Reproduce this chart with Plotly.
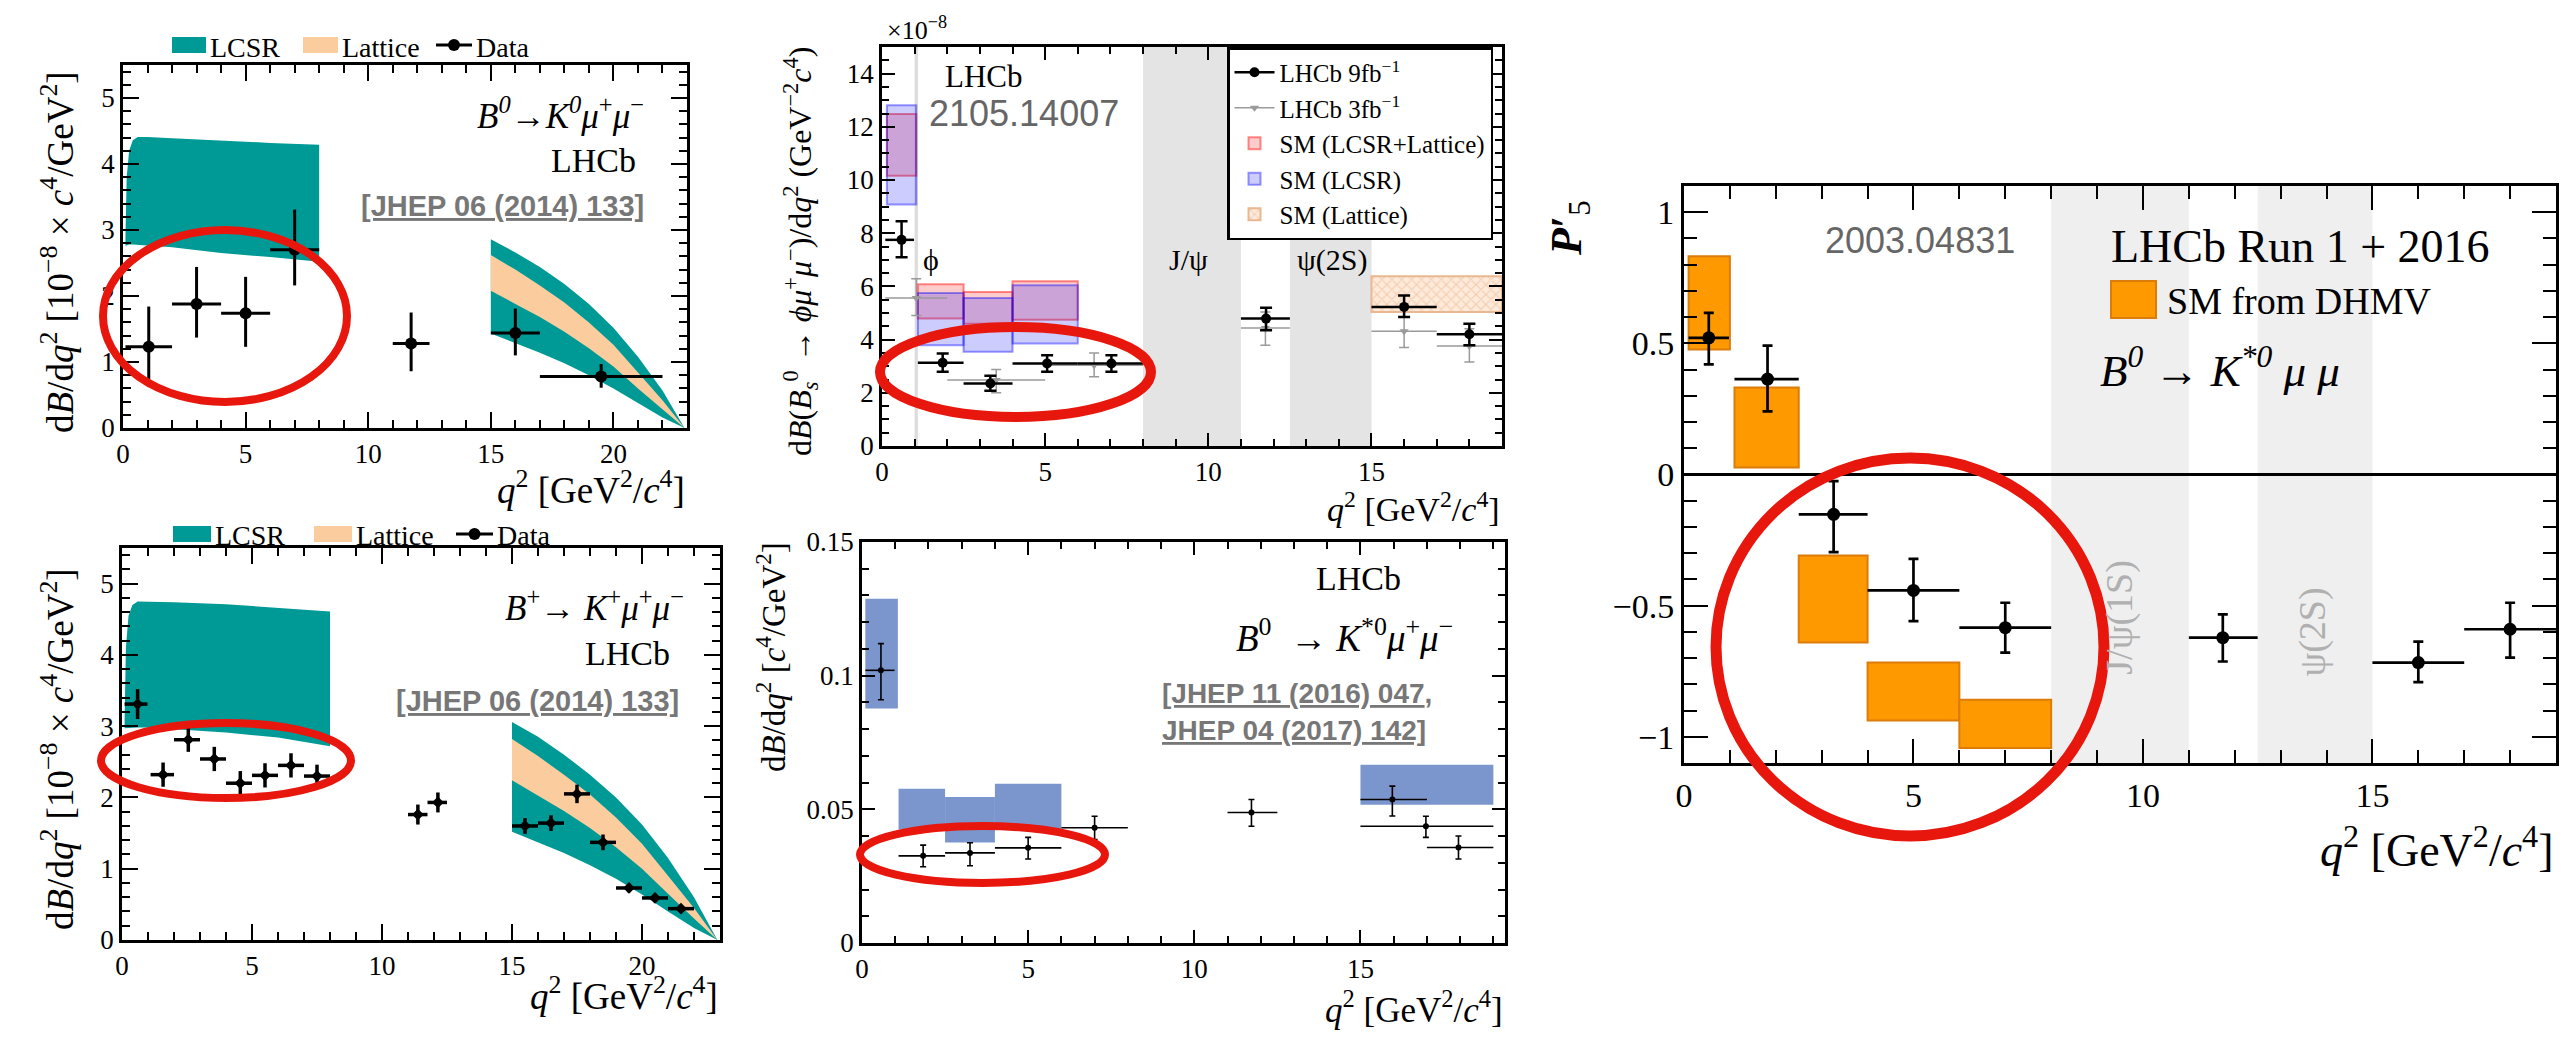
import plotly.graph_objects as go

W, H = 2561, 1037
SERIF = "Liberation Serif"
SANS = "Liberation Sans"

# ---------------- data ----------------
# Panel 1 : B0 -> K0 mu mu
k0_lo = [0.1, 2, 4, 6, 11, 15, 17]
k0_hi = [2, 4, 6, 8, 12.5, 17, 22]
k0_x = [1.05, 3, 5, 7, 11.75, 16, 19.5]
k0_y = [1.23, 1.88, 1.74, 2.70, 1.28, 1.44, 0.78]
k0_yhi = [1.84, 2.44, 2.29, 3.31, 1.75, 1.81, 0.97]
k0_ylo = [0.62, 1.37, 1.23, 2.16, 0.86, 1.10, 0.61]
low_q2 = [0.1, 0.15, 0.25, 0.4, 0.6, 1, 2, 4, 6, 8]
k0_lcsr_up = [2.9, 3.8, 4.2, 4.36, 4.41, 4.41, 4.39, 4.35, 4.32, 4.29]
k0_lcsr_dn = [2.76, 2.77, 2.78, 2.78, 2.78, 2.77, 2.74, 2.65, 2.59, 2.52]
high_q2 = [15, 16, 17, 18, 19, 20, 21, 22, 22.9]
k0_hl_tu = [2.86, 2.66, 2.44, 2.18, 1.88, 1.52, 1.08, 0.57, 0]
k0_hl_pu = [2.62, 2.40, 2.16, 1.90, 1.60, 1.26, 0.84, 0.42, 0]
k0_hl_pl = [2.08, 1.88, 1.68, 1.46, 1.21, 0.93, 0.60, 0.28, 0]
k0_hl_tl = [1.43, 1.29, 1.14, 0.98, 0.80, 0.60, 0.38, 0.16, 0]

# Panel 2 : B+ -> K+ mu mu
kp_lo = [0.1, 1.1, 2, 3, 4, 5, 6, 7, 11, 11.75, 15, 16, 17, 18, 19, 20, 21]
kp_hi = [0.98, 2, 3, 4, 5, 6, 7, 8, 11.75, 12.5, 16, 17, 18, 19, 20, 21, 22]
kp_x = [0.6, 1.58, 2.55, 3.55, 4.55, 5.5, 6.5, 7.5, 11.38, 12.15, 15.5, 16.5, 17.5, 18.5, 19.5, 20.5, 21.5]
kp_y = [3.31, 2.32, 2.81, 2.54, 2.20, 2.31, 2.45, 2.30, 1.76, 1.93, 1.60, 1.64, 2.05, 1.37, 0.73, 0.59, 0.44]
kp_err = [0.21, 0.17, 0.17, 0.17, 0.17, 0.17, 0.17, 0.16, 0.14, 0.14, 0.11, 0.11, 0.13, 0.11, 0.06, 0.06, 0.05]
kp_lcsr_up = [3.1, 4.1, 4.55, 4.7, 4.75, 4.75, 4.74, 4.71, 4.66, 4.61]
kp_lcsr_dn = [2.97, 2.98, 2.98, 2.98, 2.98, 2.98, 2.96, 2.91, 2.84, 2.72]
kp_hl_tu = [3.06, 2.85, 2.60, 2.32, 2.00, 1.62, 1.15, 0.60, 0]
kp_hl_pu = [2.82, 2.58, 2.32, 2.04, 1.72, 1.35, 0.90, 0.45, 0]
kp_hl_pl = [2.24, 2.03, 1.81, 1.57, 1.30, 1.00, 0.65, 0.30, 0]
kp_hl_tl = [1.52, 1.37, 1.22, 1.05, 0.86, 0.64, 0.40, 0.17, 0]

# Panel 3 : Bs -> phi mu mu
phi9_lo = [0.1, 1.1, 2.5, 4, 6, 11, 15, 17]
phi9_hi = [0.98, 2.5, 4, 6, 8, 12.5, 17, 19]
phi9_x = [0.6, 1.86, 3.32, 5.06, 7.03, 11.77, 16.0, 18.0]
phi9_y = [7.75, 3.13, 2.35, 3.10, 3.10, 4.79, 5.23, 4.20]
phi9_yhi = [8.45, 3.48, 2.64, 3.41, 3.41, 5.20, 5.66, 4.60]
phi9_ylo = [7.10, 2.79, 2.08, 2.79, 2.79, 4.35, 4.85, 3.79]
phi3_lo = [0.1, 2, 5, 11, 15, 17]
phi3_hi = [2, 5, 8, 12.5, 17, 19]
phi3_x = [1.05, 3.5, 6.5, 11.75, 16.0, 18.0]
phi3_y = [5.56, 2.48, 3.04, 4.44, 4.31, 3.76]
phi3_yhi = [6.29, 2.88, 3.50, 5.04, 4.85, 4.41]
phi3_ylo = [4.91, 2.00, 2.60, 3.79, 3.70, 3.16]
sm_q2_lo = [0.15, 1.1, 2.5, 4.0]
sm_q2_hi = [1.05, 2.5, 4.0, 6.0]
sm_ll_top = [12.48, 6.08, 5.79, 6.19]
sm_ll_bot = [10.16, 4.79, 4.60, 4.75]
sm_lcsr_top = [12.81, 5.75, 5.56, 6.04]
sm_lcsr_bot = [9.08, 3.79, 3.54, 3.85]
sm_lat_lo, sm_lat_hi = [15.0], [19.0]
sm_lat_top, sm_lat_bot = [6.38], [5.04]
veto_bands = [(8.0, 11.0), (12.5, 15.0)]
phi_veto = (1.0, 1.1)

# Panel 4 : B0 -> K*0 mu mu branching fraction
ks_lo = [0.1, 1.1, 2.5, 4, 6, 11, 15, 15, 17]
ks_hi = [0.98, 2.5, 4, 6, 8, 12.5, 17, 19, 19]
ks_x = [0.57, 1.84, 3.25, 5.0, 7.0, 11.72, 15.96, 16.97, 17.95]
ks_y = [0.102, 0.0326, 0.0337, 0.0356, 0.0431, 0.0488, 0.0537, 0.0437, 0.0357]
ks_yhi = [0.112, 0.0366, 0.0375, 0.0395, 0.0474, 0.0537, 0.0587, 0.0474, 0.0400]
ks_ylo = [0.091, 0.0285, 0.0289, 0.0314, 0.0387, 0.0437, 0.0475, 0.0395, 0.0314]
ks_sm_lo = [0.1, 1.1, 2.5, 4.0, 15.0]
ks_sm_hi = [1.08, 2.5, 4.0, 6.0, 19.0]
ks_sm_top = [0.1288, 0.0577, 0.0546, 0.0596, 0.0667]
ks_sm_bot = [0.0877, 0.0425, 0.0376, 0.0425, 0.0517]

# Panel 5 : P5'
p5_lo = [0.1, 1.1, 2.5, 4, 6, 11, 15, 17]
p5_hi = [0.98, 2.5, 4, 6, 8, 12.5, 17, 19]
p5_x = [0.54, 1.82, 3.26, 5.0, 7.0, 11.74, 16.0, 18.0]
p5_y = [0.521, 0.364, -0.152, -0.442, -0.584, -0.622, -0.717, -0.590]
p5_yhi = [0.616, 0.491, -0.025, -0.322, -0.489, -0.533, -0.637, -0.489]
p5_ylo = [0.420, 0.241, -0.296, -0.559, -0.679, -0.713, -0.792, -0.698]
dhmv_lo = [0.1, 1.1, 2.5, 4, 6]
dhmv_hi = [1.0, 2.5, 4, 6, 8]
dhmv_top = [0.832, 0.332, -0.309, -0.717, -0.859]
dhmv_bot = [0.477, 0.027, -0.641, -0.938, -1.043]

TEAL = "#009a96"
PEACH = "#fbcc9e"
KBLUE = "#7b96cd"
ORANGE = "#ff9900"
RED = "#e8170e"


def px(x):
    return x / W


def py(y):
    return 1 - y / H


def minus(a, b):
    return [u - v for u, v in zip(a, b)]


def mid(a, b):
    return [(u + v) / 2 for u, v in zip(a, b)]


fig = go.Figure()


def band(xs, up, dn, color, ax):
    fig.add_trace(go.Scatter(x=list(xs) + list(xs)[::-1], y=list(up) + list(dn)[::-1],
                             fill="toself", fillcolor=color, mode="lines", line=dict(width=0),
                             hoverinfo="skip", showlegend=False, xaxis="x" + ax, yaxis="y" + ax))


def points(x, y, xlo, xhi, yhi, ylo, ax, color="black", size=10, symbol="circle", thick=2.5, cap=0,
           name=None, showlegend=False):
    fig.add_trace(go.Scatter(
        x=x, y=y, mode="markers", name=name, showlegend=showlegend,
        marker=dict(color=color, size=size, symbol=symbol),
        error_x=dict(type="data", array=minus(xhi, x), arrayminus=minus(x, xlo), width=0,
                     thickness=thick, color=color),
        error_y=dict(type="data", array=minus(yhi, y), arrayminus=minus(y, ylo), width=cap,
                     thickness=thick, color=color),
        xaxis="x" + ax, yaxis="y" + ax))


def boxes(lo, hi, bot, top, ax, color, line, lw=2, name=None, showlegend=False, pattern=None, rank=None):
    fig.add_trace(go.Bar(x=mid(lo, hi), y=minus(top, bot), base=bot, width=minus(hi, lo),
                         marker=dict(color=color, line=dict(color=line, width=lw), pattern=pattern),
                         name=name, showlegend=showlegend, legendrank=rank,
                         xaxis="x" + ax, yaxis="y" + ax))


# Panel 1
band(low_q2, k0_lcsr_up, k0_lcsr_dn, TEAL, "")
band(high_q2, k0_hl_tu, k0_hl_tl, TEAL, "")
band(high_q2, k0_hl_pu, k0_hl_pl, PEACH, "")
points(k0_x, k0_y, k0_lo, k0_hi, k0_yhi, k0_ylo, "", size=12, thick=3)

# Panel 2
band(low_q2, kp_lcsr_up, kp_lcsr_dn, TEAL, "2")
band(high_q2, kp_hl_tu, kp_hl_tl, TEAL, "2")
band(high_q2, kp_hl_pu, kp_hl_pl, PEACH, "2")
points(kp_x, kp_y, kp_lo, kp_hi, [a + b for a, b in zip(kp_y, kp_err)],
       [a - b for a, b in zip(kp_y, kp_err)], "2", size=9, symbol="diamond", thick=3.5)

# Panel 3
boxes(sm_q2_lo, sm_q2_hi, sm_ll_bot, sm_ll_top, "3", "rgba(255,0,0,0.2)", "rgba(255,0,0,0.45)",
      name="SM (LCSR+Lattice)", showlegend=True, rank=3)
boxes(sm_q2_lo, sm_q2_hi, sm_lcsr_bot, sm_lcsr_top, "3", "rgba(0,0,255,0.2)", "rgba(0,0,255,0.4)",
      name="SM (LCSR)", showlegend=True, rank=4)
boxes(sm_lat_lo, sm_lat_hi, sm_lat_bot, sm_lat_top, "3", "#fdeadb", "#e9b891",
      name="SM (Lattice)", showlegend=True, rank=5,
      pattern=dict(shape="x", fgcolor="#e9ad80", size=7, solidity=0.3, fillmode="overlay"))
points(phi3_x, phi3_y, phi3_lo, phi3_hi, phi3_yhi, phi3_ylo, "3", color="#9a9a9a", size=8,
       symbol="triangle-down", thick=1.5, cap=5)
points(phi9_x, phi9_y, phi9_lo, phi9_hi, phi9_yhi, phi9_ylo, "3", size=10, thick=2.5, cap=6)
fig.add_trace(go.Scatter(x=[None], y=[None], mode="lines+markers", name="LHCb 9fb<sup>−1</sup>",
                         marker=dict(color="black", size=10), line=dict(color="black", width=2.5),
                         legendrank=1, xaxis="x3", yaxis="y3"))
fig.add_trace(go.Scatter(x=[None], y=[None], mode="lines+markers", name="LHCb 3fb<sup>−1</sup>",
                         marker=dict(color="#9a9a9a", size=8, symbol="triangle-down"),
                         line=dict(color="#9a9a9a", width=1.5), legendrank=2, xaxis="x3", yaxis="y3"))

# Panel 4
boxes(ks_sm_lo, ks_sm_hi, ks_sm_bot, ks_sm_top, "4", KBLUE, KBLUE, lw=0)
points(ks_x, ks_y, ks_lo, ks_hi, ks_yhi, ks_ylo, "4", size=6, thick=1.6, cap=3)

# Panel 5
boxes(dhmv_lo, dhmv_hi, dhmv_bot, dhmv_top, "5", ORANGE, "#dc7c0a", lw=2)
points(p5_x, p5_y, p5_lo, p5_hi, p5_yhi, p5_ylo, "5", size=13, thick=2.7, cap=5)


# ---------------- axes ----------------
def axis(dom, rng, dtick, mdtick, tl, mtl, fs, lw, anchor, **kw):
    d = dict(domain=dom, range=rng, anchor=anchor, showline=True, mirror="ticks", linecolor="black",
             linewidth=lw, ticks="inside", ticklen=tl, tickwidth=lw * 0.8, tickcolor="black",
             tick0=0, dtick=dtick, automargin=False,
             minor=dict(dtick=mdtick, tick0=0, ticks="inside", ticklen=mtl, tickwidth=lw * 0.7,
                        tickcolor="black", showgrid=False),
             showgrid=False, zeroline=False, fixedrange=True,
             tickfont=dict(family=SERIF, size=fs, color="black"))
    d.update(kw)
    return d


layout_axes = dict(
    xaxis=axis([px(123), px(687)], [0, 23], 5, 1, 16, 8, 27, 2.5, "y"),
    yaxis=axis([py(428), py(65)], [0, 5.5], 1, 0.2, 16, 8, 27, 2.5, "x"),
    xaxis2=axis([px(122), px(720)], [0, 23], 5, 1, 16, 8, 27, 2.5, "y2"),
    yaxis2=axis([py(940), py(548)], [0, 5.5], 1, 0.2, 16, 8, 27, 2.5, "x2"),
    xaxis3=axis([px(882), px(1502)], [0, 19], 5, 1, 13, 7, 27, 2.5, "y3"),
    yaxis3=axis([py(446), py(47)], [0, 15], 2, 0.5, 13, 7, 27, 2.5, "x3"),
    xaxis4=axis([px(862), px(1505)], [0, 19.35], 5, 1, 13, 7, 27, 2.5, "y4"),
    yaxis4=axis([py(943), py(542)], [0, 0.15], 0.05, 0.01, 13, 7, 27, 2.5, "x4"),
    xaxis5=axis([px(1684), px(2556)], [0, 19], 5, 1, 24, 13, 34, 3, "y5"),
    yaxis5=axis([py(763), py(186)], [-1.1, 1.1], 0.5, 0.1, 24, 13, 34, 3, "x5",
                zeroline=True, zerolinecolor="black", zerolinewidth=2.5),
)

# ---------------- shapes ----------------
shapes = []
for a, b in veto_bands:
    shapes.append(dict(type="rect", xref="x3", yref="y3 domain", x0=a, x1=b, y0=0, y1=1,
                       fillcolor="#e4e4e4", line=dict(width=0), layer="below"))
    shapes.append(dict(type="rect", xref="x5", yref="y5 domain", x0=a, x1=b, y0=0, y1=1,
                       fillcolor="#efefef", line=dict(width=0), layer="below"))
shapes.append(dict(type="rect", xref="x3", yref="y3 domain", x0=phi_veto[0], x1=phi_veto[1], y0=0, y1=1,
                   fillcolor="#dcdcdc", line=dict(width=0), layer="below"))


def prect(x0, y0, x1, y1, fill, line=None, lw=0):
    shapes.append(dict(type="rect", xref="paper", yref="paper", x0=px(x0), x1=px(x1), y0=py(y1), y1=py(y0),
                       fillcolor=fill, line=dict(color=line or fill, width=lw)))


def pline(x0, y0, x1, y1, color="black", lw=3):
    shapes.append(dict(type="line", xref="paper", yref="paper", x0=px(x0), x1=px(x1), y0=py(y0), y1=py(y1),
                       line=dict(color=color, width=lw)))


def pell(x0, y0, x1, y1, color, lw):
    shapes.append(dict(type="circle", xref="paper", yref="paper", x0=px(x0), x1=px(x1), y0=py(y1), y1=py(y0),
                       line=dict(color=color, width=lw), fillcolor="rgba(0,0,0,0)", layer="above"))


# manual legends panels 1 and 2
for yc, sq, lat, dat in [(45, (172, 206), (303, 338), (436, 472)), (534, (173, 211), (314, 352), (456, 493))]:
    prect(sq[0], yc - 8, sq[1], yc + 8, TEAL)
    prect(lat[0], yc - 8, lat[1], yc + 8, PEACH)
    pline(dat[0], yc, dat[1], yc, "black", 3)
    c = (dat[0] + dat[1]) / 2
    shapes.append(dict(type="circle", xref="paper", yref="paper", x0=px(c - 6), x1=px(c + 6),
                       y0=py(yc + 6), y1=py(yc - 6), fillcolor="black", line=dict(color="black", width=0)))
# panel 5 legend box
prect(2111, 281, 2156, 318, ORANGE, "#dc7c0a", 2)

# highlight ellipses
pell(103, 230, 347, 402, RED, 8)
pell(101, 723, 351, 798, RED, 8)
pell(880, 327, 1151, 417, RED, 10)
pell(860, 826, 1105, 883, RED, 8)
pell(1716, 458, 2104, 836, RED, 11)

# ---------------- annotations ----------------
anns = []


def ann(text, x, y, size, family=SERIF, color="black", xanchor="center", angle=0, ref=None):
    d = dict(text=text, showarrow=False, font=dict(family=family, size=size, color=color),
             xanchor=xanchor, yanchor="middle", textangle=angle)
    if ref:
        d.update(xref="x" + ref, yref="y" + ref, x=x, y=y)
    else:
        d.update(xref="paper", yref="paper", x=px(x), y=py(y))
    anns.append(d)


XL = "<i>q</i><sup>2</sup> [GeV<sup>2</sup>/<i>c</i><sup>4</sup>]"
YL12 = "d<i>B</i>/d<i>q</i><sup>2</sup> [10<sup>−8</sup> × <i>c</i><sup>4</sup>/GeV<sup>2</sup>]"
GRAYT = "#777777"
NB = "\u00a0"

# panel 1 / 2 legends
for yc, xs in [(47, (208, 340, 474)), (535, (213, 354, 495))]:
    ann("LCSR", xs[0], yc, 28, xanchor="left")
    ann("Lattice", xs[1], yc, 28, xanchor="left")
    ann("Data", xs[2], yc, 28, xanchor="left")

# panel 1
ann("<i>B</i><sup><i>0</i></sup>→<i>K</i><sup><i>0</i></sup><i>μ</i><sup>+</sup><i>μ</i><sup>−</sup>",
    646, 113, 35, xanchor="right")
ann("LHCb", 638, 160, 34, xanchor="right")
ann("<b><u>[JHEP 06 (2014) 133]</u></b>", 503, 206, 29, family=SANS, color=GRAYT)
ann(XL, 687, 487, 37, xanchor="right")
ann(YL12, 57, 252, 37, angle=-90)

# panel 2
ann("<i>B</i><sup>+</sup>→ <i>K</i><sup>+</sup><i>μ</i><sup>+</sup><i>μ</i><sup>−</sup>", 686, 605, 35,
    xanchor="right")
ann("LHCb", 672, 653, 34, xanchor="right")
ann("<b><u>[JHEP 06 (2014) 133]</u></b>", 537, 701, 29, family=SANS, color=GRAYT)
ann(XL, 720, 993, 37, xanchor="right")
ann(YL12, 57, 749, 37, angle=-90)

# panel 3
ann("×10<sup>−8</sup>", 885, 28, 26, xanchor="left")
ann("LHCb", 943, 77, 31, xanchor="left")
ann("2105.14007", 927, 113, 36, family=SANS, color="#666666", xanchor="left")
ann("ϕ", 1.5, 7.0, 30, ref="3")
ann("J/ψ", 9.4, 7.0, 30, ref="3")
ann("ψ(2S)", 13.8, 7.0, 30, ref="3")
ann("<i>q</i><sup>2</sup> [GeV<sup>2</sup>/<i>c</i><sup>4</sup>]", 1502, 507, 34, xanchor="right")
ann("d<i>B</i>(<i>B</i><sub><i>s</i></sub><sup>0</sup> → <i>ϕμ</i><sup>+</sup><i>μ</i><sup>−</sup>)/d<i>q</i><sup>2</sup>"
    " (GeV<sup>−2</sup><i>c</i><sup>4</sup>)", 800, 252, 32, angle=-90)

# panel 4
ann("LHCb", 1358, 578, 34)
ann("<i>B</i><sup>0</sup>" + NB + NB + "→ <i>K</i><sup>*0</sup><i>μ</i><sup>+</sup><i>μ</i><sup>−</sup>",
    1345, 635, 37)
ann("<b><u>[JHEP 11 (2016) 047</u>,</b>", 1160, 693, 28, family=SANS, color=GRAYT, xanchor="left")
ann("<b><u>JHEP 04 (2017) 142]</u></b>", 1160, 730, 28, family=SANS, color=GRAYT, xanchor="left")
ann(XL, 1505, 1007, 35, xanchor="right")
ann("d<i>B</i>/d<i>q</i><sup>2</sup> [<i>c</i><sup>4</sup>/GeV<sup>2</sup>]", 771, 657, 33, angle=-90)

# panel 5
ann("2003.04831", 1920, 240, 36, family=SANS, color="#666666")
ann("LHCb Run 1 + 2016", 2109, 247, 46, xanchor="left")
ann("SM from DHMV", 2165, 301, 38, xanchor="left")
ann("<i>B</i><sup><i>0</i></sup>" + NB + "→" + NB + "<i>K</i><sup><i>*0</i></sup>" + NB + "<i>μ</i>" + NB
    + "<i>μ</i>", 2098, 367, 45, xanchor="left")
ann("J/ψ(1S)", 9.5, -0.546, 38, color="#b0b0b0", angle=-90, ref="5")
ann("ψ(2S)", 13.7, -0.60, 38, color="#b0b0b0", angle=-90, ref="5")
ann(XL, 2556, 847, 46, xanchor="right")
ann("<b><i>P</i>′</b><sub>5</sub>", 1570, 228, 44, angle=-90)

fig.update_layout(
    width=W, height=H, margin=dict(l=0, r=0, t=0, b=0, pad=0, autoexpand=False),
    paper_bgcolor="white", plot_bgcolor="white",
    barmode="overlay", font=dict(family=SERIF, color="black"), shapes=shapes, annotations=anns,
    legend=dict(x=px(1227), y=py(47), xanchor="left", yanchor="top", bgcolor="white", bordercolor="black",
                borderwidth=2.5, font=dict(family=SERIF, size=25, color="black"), traceorder="normal",
                itemwidth=40, tracegroupgap=0),
    **layout_axes,
)

fig.write_html("out.html", config={"displayModeBar": False},
               post_script="document.body.style.margin='0px';")
